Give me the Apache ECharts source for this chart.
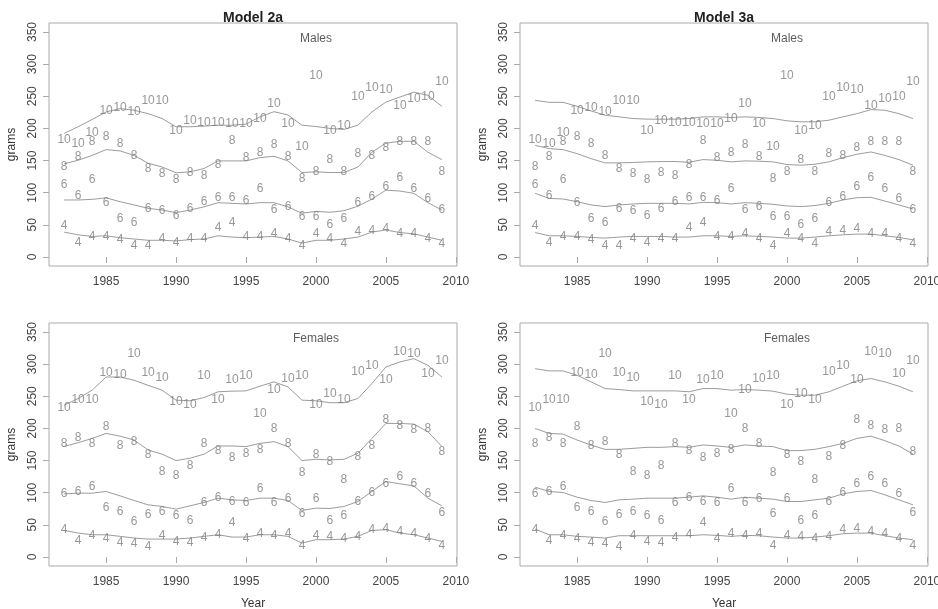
<!DOCTYPE html>
<html>
<head>
<meta charset="utf-8">
<script src="https://cdn.jsdelivr.net/npm/echarts@6/dist/echarts.min.js"></script>
<style>
  html, body { margin: 0; padding: 0; background: #fff; overflow: hidden; }
  /* canvas runs a little past the window so the last year label is cut by the page edge */
  #chart { width: 960px; height: 609px; }
</style>
</head>
<body>
<div id="chart"></div>
<script>
// Survey years
const years = [1982,1983,1984,1985,1986,1987,1988,1989,1990,1991,1992,1993,1994,1995,
               1996,1997,1998,1999,2000,2001,2002,2003,2004,2005,2006,2007,2008,2009];

// Observed mean weight (grams) by age, males
const malesAge4  = [49,23,31,32,27,17.5,18,28,21.6,29,28,45,52.6,32,32,36.6,28,18,36,28,20.6,38.7,40.7,43.8,36,35.6,29,20.6];
const malesAge6  = [112,95,121,84,60,54,75,72,64,75,86,92,92,88,107,74,79,63,63,50,59,84,94,109,124,107,90,74];
const malesAge8  = [141,156,180,187,176,157,138,130,120,131,126,144,181,155,162,174,156,122,133,152,133,160,157,170,179,179,179,133];
const malesAge10 = [182,176,193,227,232,226,243,243,196,212,209,209,207,207,215,238,207,171,282,197,204,250,263,260,236,246,250,272];

// Observed mean weight (grams) by age, females
const femalesAge4  = [42.4,25.9,33.1,27.9,22.8,20.7,16.5,33.1,24.3,22.8,29.5,34.6,53.8,27.9,35.7,33.1,35.7,17.6,33.1,32.1,27.9,31,42.4,43.4,39.8,35.7,27.9,17.6];
const femalesAge6  = [98.2,101.9,109.6,76,70.8,55.3,65.7,70.8,64.1,56.4,84.8,93,86.3,83.8,107,83.8,90,67.2,90,56.9,64.1,86.3,100.3,113.8,125,114.8,98.2,69.3];
const femalesAge8  = [176,186,176,202.6,172.6,179.3,159,132.9,126.2,141.7,175.7,165,155,160,167.5,200,176.7,131.3,158.7,148.4,120,156,172.7,213,203.6,198.4,200,164];
const femalesAge10 = [232,244,245,286.3,284.3,316.3,286.3,279,241.4,237.7,282.7,244,276,282.7,222.2,259.5,277.6,282.7,236.2,254.3,244,288,298.2,276,319,316.3,285.3,306];

// Model 2a fitted weights
const m2aMales4  = [38.7,34.5,32,33,30,28,26,26,25,27,28,33,31,30,31,32,28,21.6,26,26,28,31,38.7,42,38,36,31,26];
const m2aMales6  = [88.7,88.7,89.7,92,86,81,75.8,73,69,73,78,84.5,83.5,82.5,84.5,84.5,78,68,71,69.6,72,79,90,104,102.6,99,84.5,73];
const m2aMales8  = [145,150.5,158,167,165,158,146,140,131,132.5,137.6,149.5,149.5,149.5,154.6,156.7,149.5,131.4,132.5,131.4,131.4,140,163,177,180,180,163,151.5];
const m2aMales10 = [192.3,202.6,213.9,225.7,230.8,228.3,223,215.4,202.6,202.6,203.6,205,205,206.7,218,226,221,205,203,200,198.5,205,225.7,241,248.8,256.5,251.4,234.4];
const m2aFemales4  = [41.4,37.2,34.6,34.6,32.1,29.5,27.9,27.9,27.9,29.5,32.1,34.6,31,31,34.6,34.6,32.1,21.7,26.9,26.9,27.9,32.1,41.4,42.4,37.2,34.6,29.5,24.3];
const m2aFemales6  = [98.2,99.3,99.3,101.9,95.1,87.9,81.2,78.6,74.5,79.6,84.8,91.5,88.9,87.9,91.5,91.5,87.9,72.4,76,75.5,78.6,86.3,101.9,117.4,113.8,110.6,91.5,79.6];
const m2aFemales8  = [172,177.8,184.5,192.2,188,182,166.5,160,150,153.6,160,172.7,172.7,171.7,176.8,179.4,171.7,150,152,151,152,161.3,184.5,207.8,207.8,206.7,194.8,172];
const m2aFemales10 = [236.2,246.5,259.5,280,280,275,267,259.5,244,243,248,257,258,258.4,265.7,272.4,264.6,244,243,240,240,246.5,269.8,295.7,303.4,308.6,298.2,280];

// Model 3a fitted weights
const m3aMales4  = [38,33,33,32,30.4,29.4,31,32,32,32,31,31,33,33,32,33,32,31,29.4,29.4,31,33,34.5,35.6,35.6,33,30.4,26.8];
const m3aMales6  = [99,91.2,90.2,86,81,78.4,81,82.5,83.5,83.5,83.5,82.5,85,84.5,82.5,84.5,83.5,82,79.4,78.4,80,83.5,88.7,92.3,92.8,87,81,74.7];
const m3aMales8  = [173.7,168.6,167,160.8,153,146.4,146.4,147,148,148.5,148.5,147.4,151.5,150.5,148,149.5,149,148,143.8,142.8,144.3,148,154.6,159.8,163.4,158,151.5,142.8];
const m3aMales10 = [243.7,240.6,240.6,234.4,227.2,220.6,218,215.4,214.4,214.4,214.4,215.4,218,218,217,218,217,215.4,211.8,210.3,210.3,212.8,218,223,229.3,228.3,223,215.4];
const m3aFemales4  = [43.4,34.6,34.6,32.1,31,29.5,33.1,33.1,33.1,33.1,33.1,33.1,34.6,33.6,32.1,33.6,33.1,31,29.5,29.5,31,33.1,36.2,37.2,37.2,33.1,29.5,26.9];
const m3aFemales6  = [108.6,101.9,100.3,93,87.9,84.8,88.9,90,91.5,91.5,91.5,93,95.1,93,90,93,91.5,90,86.3,86.3,88.9,91.5,98.2,101.9,103.4,96.7,88.9,81.2];
const m3aFemales8  = [200,192.2,191.2,182,174,167.4,167.5,169,170.6,170.6,171.7,170.6,174.3,172.7,170.6,174.3,172.7,171.7,165.5,165.5,167.5,171.7,176.7,184.5,188,180.9,172.6,160.3];
const m3aFemales10 = [293,289.5,289.5,282.7,272.4,262,260.5,258.4,258.4,258.4,258.4,257,262,262,259.5,260.5,259.5,258,253.3,251.7,251.7,257,265.7,274,277.6,272.4,265.7,257];

// Axis ticks and labels
const ages = ['4', '6', '8', '10'];
const yearTicks = [1985, 1990, 1995, 2000, 2005, 2010];
const gramTicks = [0, 50, 100, 150, 200, 250, 300, 350];
const panelTitles = ['Model 2a', 'Model 3a'];
const sexLabels = ['Males', 'Females'];

const FONT = '"Liberation Sans", Arial, Helvetica, sans-serif';
const obsColor = '#7d7d7d';
const fitColor = '#9c9c9c';
const boxColor = '#aaaaaa';
const tickTextColor = '#444';

const panels = [
  { obs: [malesAge4, malesAge6, malesAge8, malesAge10],     fit: [m2aMales4, m2aMales6, m2aMales8, m2aMales10],         sex: 0 },
  { obs: [malesAge4, malesAge6, malesAge8, malesAge10],     fit: [m3aMales4, m3aMales6, m3aMales8, m3aMales10],         sex: 0 },
  { obs: [femalesAge4, femalesAge6, femalesAge8, femalesAge10], fit: [m2aFemales4, m2aFemales6, m2aFemales8, m2aFemales10], sex: 1 },
  { obs: [femalesAge4, femalesAge6, femalesAge8, femalesAge10], fit: [m3aFemales4, m3aFemales6, m3aFemales8, m3aFemales10], sex: 1 }
];

const gridBoxes = [
  { left: 49,  top: 23,  width: 408, height: 243 },
  { left: 520, top: 23,  width: 408, height: 243 },
  { left: 49,  top: 323, width: 408, height: 243 },
  { left: 520, top: 323, width: 408, height: 243 }
];

const grid = gridBoxes.map(b => Object.assign({
  show: true, borderColor: boxColor, borderWidth: 1, backgroundColor: 'transparent',
  containLabel: false, outerBoundsMode: 'none'
}, b));

const xAxis = gridBoxes.map((b, i) => ({
  type: 'value', gridIndex: i, min: 1980.92, max: 2010.08,
  name: i >= 2 ? 'Year' : '', nameLocation: 'middle', nameGap: 32,
  nameTextStyle: { fontFamily: FONT, fontSize: 12, color: '#333' },
  axisLine: { show: false },
  splitLine: { show: false },
  axisTick: { show: true, length: 6, lineStyle: { color: boxColor }, customValues: yearTicks },
  axisLabel: { show: true, margin: 10, fontFamily: FONT, fontSize: 12, color: tickTextColor, customValues: yearTicks,
               formatter: v => String(v) }
}));

const yAxis = gridBoxes.map((b, i) => ({
  type: 'value', gridIndex: i, min: -14, max: 364,
  name: 'grams', nameLocation: 'middle', nameGap: 31, nameRotate: 90,
  nameTextStyle: { fontFamily: FONT, fontSize: 12, color: '#333' },
  axisLine: { show: false },
  splitLine: { show: false },
  axisTick: { show: true, length: 6, lineStyle: { color: boxColor }, customValues: gramTicks },
  axisLabel: { show: true, rotate: 90, margin: 10, fontFamily: FONT, fontSize: 12, color: tickTextColor, customValues: gramTicks }
}));

const series = [];
panels.forEach((p, i) => {
  // fitted curves
  p.fit.forEach(vals => {
    series.push({
      type: 'line', xAxisIndex: i, yAxisIndex: i, silent: true,
      symbol: 'none', smooth: false,
      lineStyle: { color: fitColor, width: 1 },
      data: years.map((y, k) => [y, vals[k]]),
      z: 2
    });
  });
  // observed values drawn as age numerals
  p.obs.forEach((vals, a) => {
    series.push({
      type: 'scatter', xAxisIndex: i, yAxisIndex: i, silent: true,
      symbol: 'circle', symbolSize: 1,
      itemStyle: { color: 'rgba(0,0,0,0)' },
      label: {
        show: true, position: 'inside', formatter: ages[a],
        fontFamily: FONT, fontSize: 12, color: obsColor
      },
      data: years.map((y, k) => [y, vals[k]]),
      z: 3
    });
  });
  // sex caption inside the panel
  series.push({
    type: 'scatter', xAxisIndex: i, yAxisIndex: i, silent: true,
    symbol: 'circle', symbolSize: 1, itemStyle: { color: 'rgba(0,0,0,0)' },
    label: { show: true, position: 'inside', formatter: sexLabels[p.sex], fontFamily: FONT, fontSize: 12, color: '#333' },
    data: [[2000, 340]]
  });
});

const graphic = panelTitles.map((t, i) => ({
  type: 'text',
  x: gridBoxes[i].left + gridBoxes[i].width / 2,
  y: 18,
  style: { text: t, fontFamily: FONT, fontSize: 14, fontWeight: 'bold', fill: '#222', align: 'center', verticalAlign: 'middle' }
}));

const chart = echarts.init(document.getElementById('chart'), null, { renderer: 'canvas' });
chart.setOption({
  animation: false,
  backgroundColor: '#fff',
  textStyle: { fontFamily: FONT },
  grid, xAxis, yAxis, series, graphic
});
</script>
</body>
</html>
